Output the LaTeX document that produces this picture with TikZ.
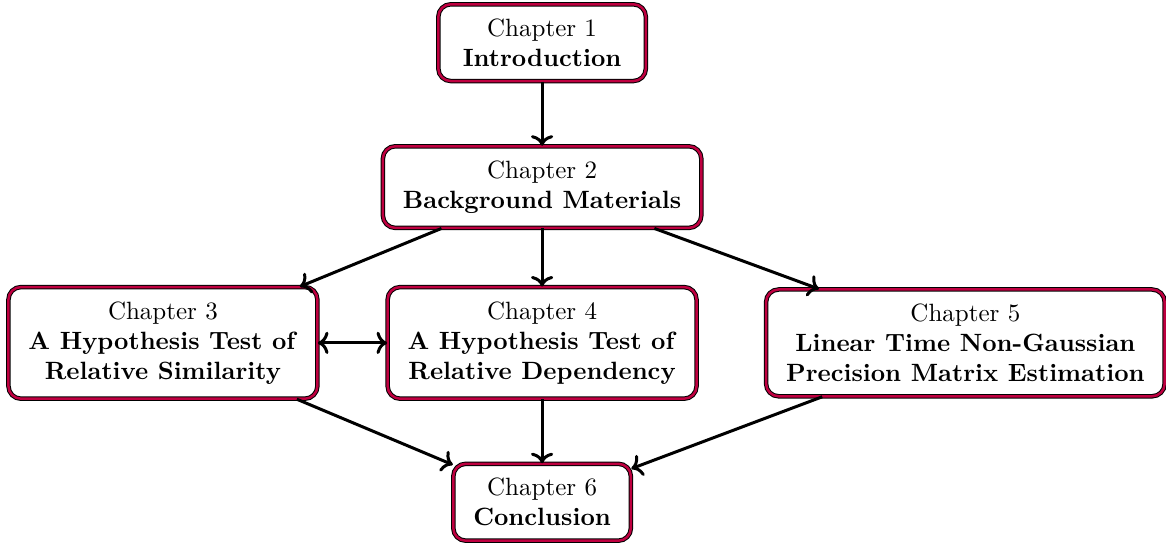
\documentclass[tikz,border=0pt]{standalone}
\usepackage{tikz}
\usetikzlibrary{arrows.meta,positioning}

\tikzset{
	chapter/.style={draw=black, double=purple, double distance=1pt, line width=0.4pt,
		rounded corners=5pt, fill=white, align=center, inner xsep=8pt, inner ysep=5.8pt},
	link/.style={->, very thick}
}

\begin{document}
\begin{tikzpicture}
			\useasboundingbox (0,0) rectangle (16.39,-7.66);
			\node[chapter, minimum width=83pt] (ch1) at (7.62,-0.60) {Chapter 1\\ \textbf{Introduction}};
			\node[chapter] (ch2) at (7.62,-2.63) {Chapter 2\\ \textbf{Background Materials}};
			\node[chapter, minimum width=123pt] (ch3) at (2.29,-4.82) {Chapter 3\\ \textbf{A Hypothesis Test of}\\ \textbf{Relative Similarity}};
			\node[chapter, minimum width=123pt] (ch4) at (7.62,-4.82) {Chapter 4\\ \textbf{A Hypothesis Test of}\\ \textbf{Relative Dependency}};
			\node[chapter] (ch5) at (13.57,-4.82) {Chapter 5\\ \textbf{Linear Time Non-Gaussian}\\ \textbf{Precision Matrix Estimation}};
			\node[chapter] (ch6) at (7.62,-7.06) {Chapter 6\\ \textbf{Conclusion}};
			\draw[link] (ch1) -- (ch2);
			\draw[link] (ch2) -- (ch3);
			\draw[link] (ch2) -- (ch4);
			\draw[link] (ch2) -- (ch5);
			\draw[link, <->] (ch3) -- (ch4);
			\draw[link] (ch3) -- (ch6);
			\draw[link] (ch4) -- (ch6);
			\draw[link] (ch5) -- (ch6);
		\end{tikzpicture}
\end{document}
